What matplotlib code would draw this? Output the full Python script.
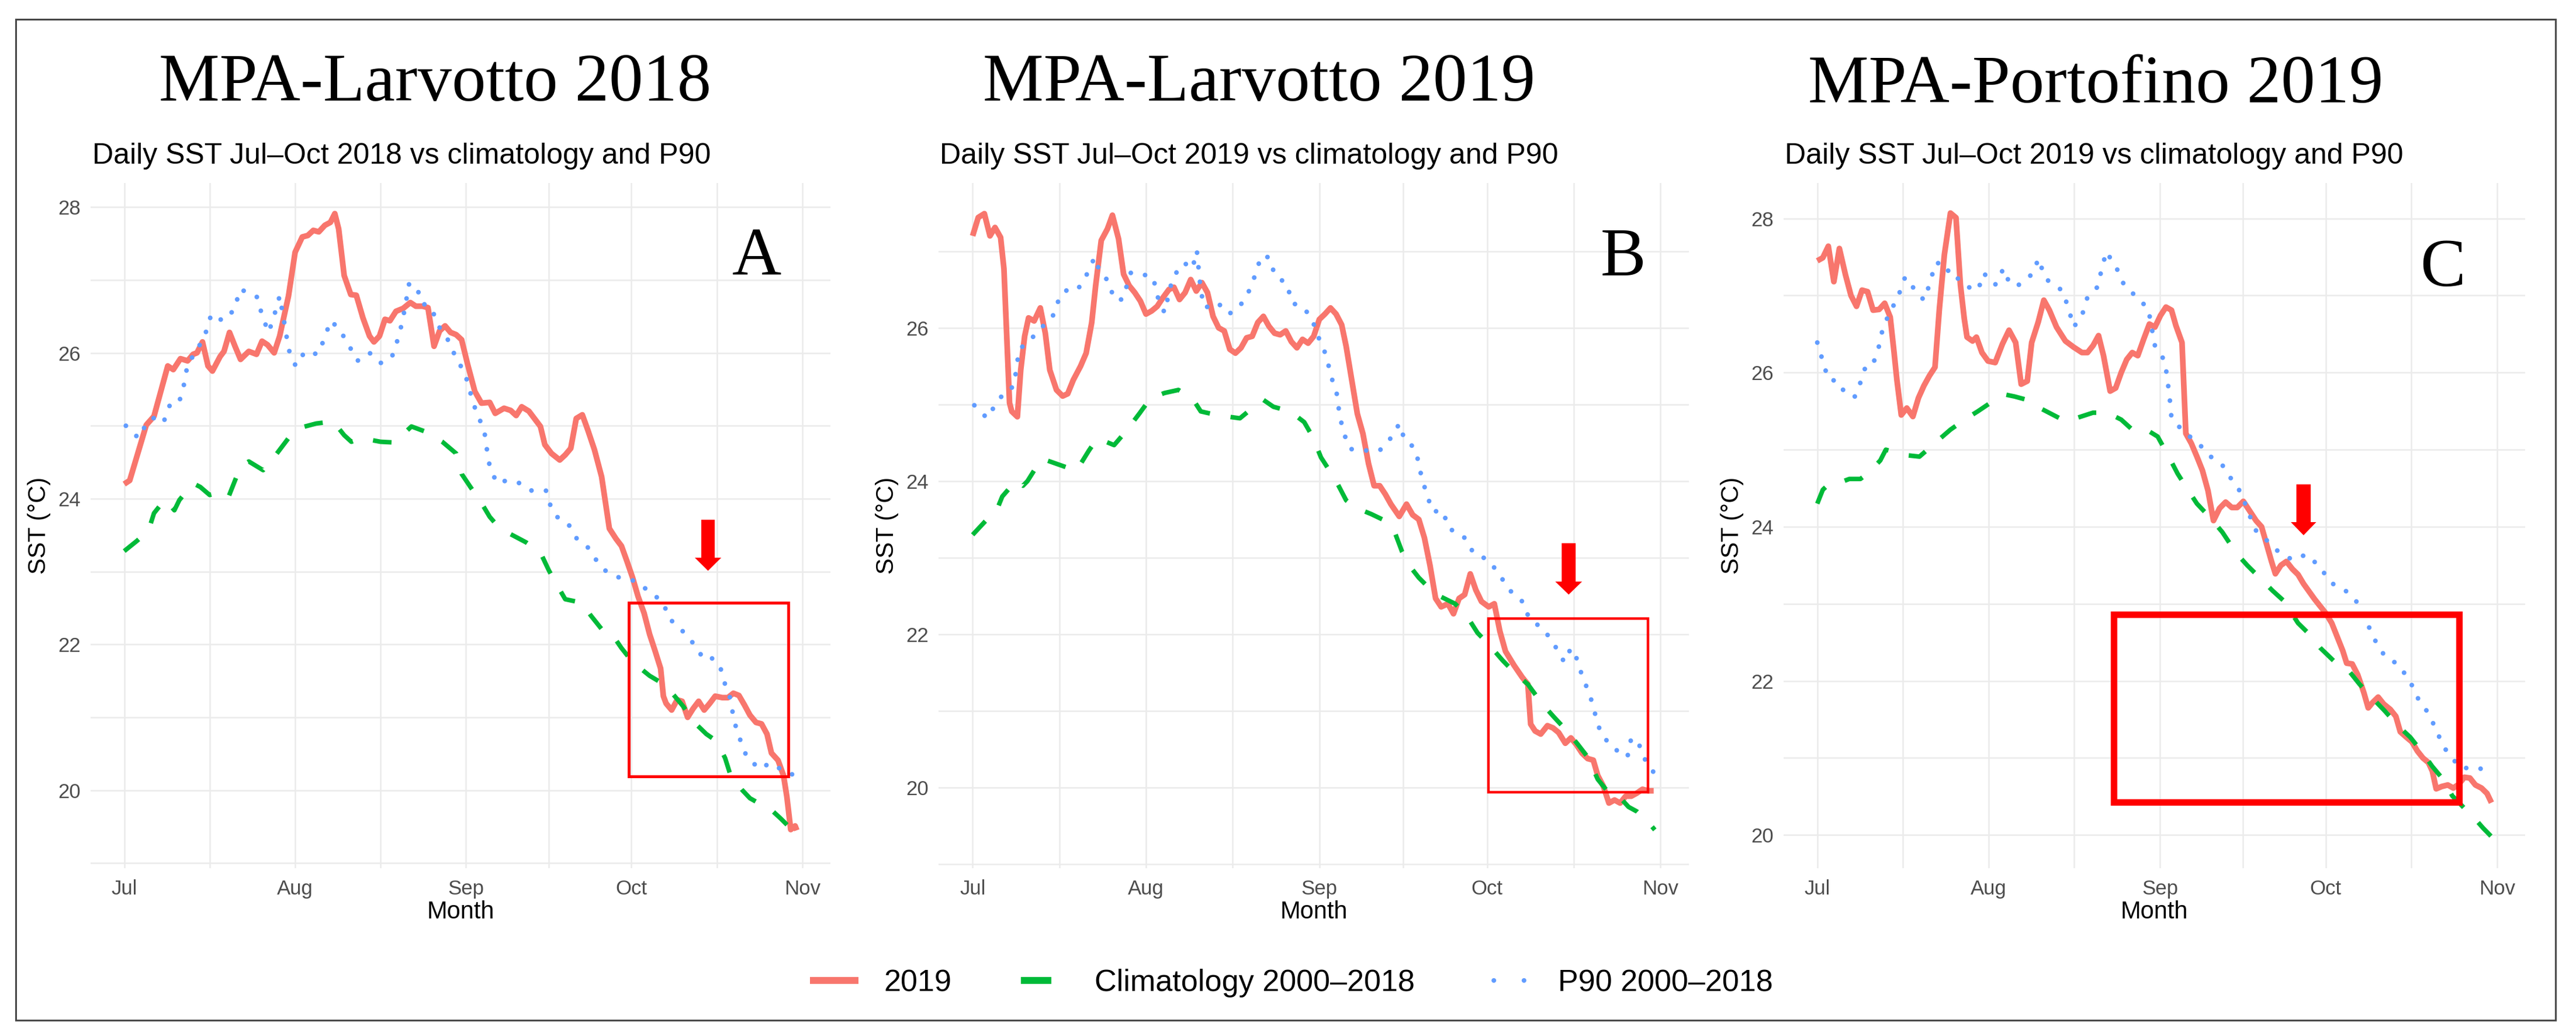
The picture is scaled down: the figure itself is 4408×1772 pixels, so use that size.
import numpy as np
import pandas as pd
import matplotlib
matplotlib.use("Agg")
import matplotlib.pyplot as plt
import matplotlib.dates as mdates
from matplotlib.ticker import MultipleLocator, FixedLocator
from matplotlib.patches import Rectangle, FancyArrow
from matplotlib.lines import Line2D

plt.rcParams['font.family'] = 'Liberation Sans'

# values: (days since 1 Jul, SST in degC)
a_obs = [(0, 24.2), (1, 24.25), (4, 25.01), (5.4, 25.13), (7.9, 25.82), (8.9, 25.77), (10.2, 25.92),
         (11.5, 25.89), (12.5, 25.98), (13.2, 26.0), (14.2, 26.15), (15.2, 25.82), (16, 25.75),
         (17.4, 25.95), (18.1, 26.02), (19.1, 26.28), (20.1, 26.09), (21.1, 25.91), (22.6, 26.02),
         (24, 25.98), (25, 26.16), (26, 26.11), (27.2, 26.0), (28.2, 26.23), (29.8, 26.78), (31, 27.38),
         (32.3, 27.59), (33.3, 27.61), (34.3, 27.68), (35.3, 27.66), (36.4, 27.75), (37.4, 27.79),
         (38.2, 27.91), (38.9, 27.7), (39.9, 27.06), (41.1, 26.8), (42.1, 26.79), (43.3, 26.48),
         (44.5, 26.23), (45.3, 26.15), (46.3, 26.23), (47.3, 26.46), (48.2, 26.44), (49.3, 26.57),
         (50.6, 26.61), (51.9, 26.69), (52.9, 26.64), (54.1, 26.64), (55.1, 26.62), (56.2, 26.09),
         (57.2, 26.3), (58.2, 26.37), (59.2, 26.28), (60.2, 26.25), (61.2, 26.18), (62.3, 25.84),
         (63.6, 25.47), (64.8, 25.31), (66.3, 25.32), (67.3, 25.17), (68.9, 25.24), (70.1, 25.21),
         (71.1, 25.14), (72.1, 25.26), (73.4, 25.2), (74.4, 25.1), (75.5, 24.99), (76.3, 24.74),
         (77.5, 24.62), (79, 24.53), (80, 24.6), (81, 24.69), (82, 25.1), (83.1, 25.15), (84.1, 24.94),
         (85.3, 24.67), (86.6, 24.3), (88, 23.59), (89.2, 23.45), (90.2, 23.35), (91.2, 23.14),
         (92.2, 22.92), (93.2, 22.66), (94.3, 22.43), (95.3, 22.14), (96.3, 21.91), (97.3, 21.67),
         (97.8, 21.29), (98.3, 21.19), (99.3, 21.1), (100.3, 21.24), (101.2, 21.22), (102.2, 21.0),
         (103.2, 21.12), (104.2, 21.22), (105.2, 21.1), (106.2, 21.19), (107.2, 21.29), (108.5, 21.27),
         (109.5, 21.27), (110.5, 21.33), (111.5, 21.3), (112.5, 21.17), (113.5, 21.03), (114.6, 20.93),
         (115.6, 20.91), (116.6, 20.77), (117.4, 20.51), (118.6, 20.41), (119.6, 20.2), (120.2, 19.91),
         (120.9, 19.46), (121.7, 19.51), (122, 19.45)]
a_clim = [(0, 23.28), (2.3, 23.42), (4.4, 23.56), (5.4, 23.8), (7.4, 23.99), (9.1, 23.84), (10, 23.98),
          (12.5, 24.21), (13.8, 24.16), (15.5, 24.05), (17.6, 24.09), (18.9, 24.02), (21.1, 24.44),
          (22.6, 24.51), (25.2, 24.39), (27.2, 24.57), (29.8, 24.83), (31.8, 24.97), (34.8, 25.03),
          (37.9, 25.06), (39.9, 24.87), (41.2, 24.78), (43, 24.83), (46.5, 24.78), (49, 24.77),
          (52.1, 24.99), (54.6, 24.92), (57.7, 24.78), (60.2, 24.62), (61.2, 24.34), (62.8, 24.16),
          (64.8, 23.94), (66.3, 23.75), (67.8, 23.62), (69.9, 23.52), (72.9, 23.4), (75.5, 23.26),
          (77, 23.02), (78, 22.88), (80, 22.62), (83.1, 22.57), (84.6, 22.4), (86.6, 22.21), (88.2, 22.17),
          (90.2, 21.95), (92.2, 21.76), (95.3, 21.57), (97.3, 21.48), (99.3, 21.34), (101.4, 21.15),
          (103.4, 20.93), (105.6, 20.77), (107.5, 20.67), (109, 20.44), (110, 20.2), (112, 20.01),
          (113.5, 19.89), (115.6, 19.8), (117.1, 19.75), (119.1, 19.61), (120.7, 19.49), (122, 19.37)]
a_p90 = [(0.3, 25.0), (2.6, 24.83), (4.4, 25.08), (6.4, 25.13), (7.2, 25.06), (8.4, 25.31), (10, 25.33),
         (11, 25.61), (11.5, 25.86), (13, 26.0), (14.8, 26.28), (15.8, 26.53), (17.9, 26.44), (20.1, 26.6),
         (20.9, 26.87), (22.6, 26.83), (24.2, 26.76), (25, 26.51), (26.2, 26.28), (27.2, 26.51),
         (28.2, 26.78), (29.3, 26.3), (29.8, 26.05), (31.1, 25.82), (32.8, 26.02), (35.1, 25.98),
         (36.4, 26.21), (37.4, 26.44), (38.9, 26.34), (40.7, 26.11), (42.3, 25.89), (44.5, 26.0),
         (46.5, 25.86), (48.5, 25.93), (49.6, 26.18), (50.4, 26.41), (51.1, 26.69), (51.6, 26.94),
         (53.1, 26.92), (53.8, 26.69), (55.7, 26.62), (57, 26.37), (58.7, 26.18), (60.2, 25.93),
         (61.8, 25.72), (62.8, 25.45), (63.8, 25.2), (65.3, 24.94), (65.8, 24.67), (66.3, 24.44),
         (67.6, 24.21), (69.4, 24.25), (71.9, 24.21), (73.9, 24.11), (76.5, 24.11), (77.5, 23.86),
         (78.5, 23.75), (80.5, 23.66), (82.1, 23.45), (84.1, 23.33), (85.6, 23.16), (87.1, 23.02),
         (89.7, 22.92), (92.2, 22.88), (95.3, 22.73), (97.8, 22.57), (98.8, 22.36), (101.2, 22.19),
         (103.4, 22.0), (105.2, 21.79), (106.6, 21.81), (108, 21.72), (109, 21.45), (109.7, 21.34),
         (110.7, 20.93), (111.7, 20.7), (113, 20.44), (115.4, 20.29), (116.8, 20.36), (117.9, 20.36),
         (119.6, 20.25), (122, 20.2)]

b_obs = [(0, 27.2), (1, 27.44), (2.1, 27.49), (3.1, 27.2), (4, 27.31), (5, 27.18), (5.6, 26.77), (6.1, 25.89),
         (6.6, 25.02), (7, 24.91), (8, 24.84), (8.6, 25.45), (9.3, 25.89), (10, 26.13), (11, 26.09),
         (12.1, 26.26), (13, 25.93), (13.8, 25.45), (15, 25.19), (16.1, 25.11), (17, 25.14), (18, 25.32),
         (19.3, 25.5), (20.3, 25.67), (21.3, 26.07), (22, 26.55), (23, 27.14), (24.1, 27.29), (25, 27.47),
         (26.1, 27.16), (27, 26.7), (28, 26.55), (29, 26.46), (30, 26.35), (31, 26.18), (32, 26.22),
         (33, 26.28), (34, 26.39), (35.1, 26.5), (36, 26.53), (37, 26.37), (38, 26.46), (39, 26.63),
         (40, 26.48), (41, 26.59), (42, 26.46), (43, 26.15), (44, 26.0), (45, 25.96), (46, 25.72),
         (47, 25.67), (48, 25.74), (49, 25.87), (50, 25.89), (51, 26.07), (52, 26.15), (53, 26.02),
         (54, 25.93), (55, 25.91), (56, 25.96), (57, 25.82), (58, 25.74), (59, 25.85), (60, 25.8),
         (61, 25.89), (62, 26.11), (63, 26.18), (64, 26.26), (65, 26.18), (66, 26.04), (66.8, 25.76),
         (67.8, 25.32), (68.8, 24.88), (69.8, 24.62), (70.8, 24.23), (71.8, 23.94), (72.8, 23.94),
         (73.8, 23.83), (74.8, 23.7), (76.3, 23.54), (77.6, 23.7), (78.7, 23.56), (79.8, 23.5),
         (80.8, 23.26), (81.8, 22.9), (82.8, 22.47), (83.8, 22.36), (85, 22.4), (86, 22.27), (87, 22.47),
         (88, 22.52), (89, 22.79), (90, 22.58), (91, 22.43), (92.3, 22.36), (93.3, 22.4), (94.3, 22.04),
         (95.3, 21.78), (96.8, 21.6), (98.3, 21.44), (99.3, 21.35), (99.8, 20.83), (100.6, 20.74),
         (101.6, 20.7), (102.8, 20.81), (103.8, 20.78), (104.8, 20.72), (106, 20.58), (107, 20.65),
         (108, 20.56), (109, 20.45), (110, 20.38), (111, 20.36), (111.8, 20.16), (112.8, 20.02),
         (113.8, 19.8), (114.8, 19.84), (115.8, 19.8), (116.8, 19.89), (117.8, 19.89), (118.8, 19.93),
         (119.8, 19.98), (120.8, 19.96), (121.8, 19.96)]
b_clim = [(0, 23.3), (2.3, 23.48), (4.3, 23.62), (5.3, 23.8), (7.8, 24.01), (9, 23.94), (9.8, 24.0),
          (12.3, 24.29), (13.3, 24.27), (16.8, 24.18), (18.6, 24.14), (20.8, 24.4), (22.3, 24.56),
          (25.3, 24.47), (27.3, 24.64), (29.8, 24.88), (31.8, 25.08), (34.3, 25.15), (36.8, 25.19),
          (39.3, 25.08), (40.8, 24.91), (43.8, 24.86), (47.8, 24.82), (50.3, 24.97), (52, 25.06),
          (53.8, 24.97), (56.8, 24.91), (59.3, 24.77), (60.8, 24.58), (62.3, 24.31), (63.8, 24.14),
          (65.3, 23.96), (66.8, 23.75), (68.3, 23.66), (71.3, 23.57), (73.3, 23.5), (75.3, 23.37),
          (76.8, 23.08), (78.3, 22.88), (79.8, 22.74), (81.3, 22.63), (83.8, 22.49), (86.3, 22.4),
          (88.3, 22.25), (90.3, 22.02), (92.3, 21.87), (94.8, 21.66), (96.8, 21.51), (99.3, 21.35),
          (101.8, 21.1), (104, 20.92), (106.3, 20.74), (108.3, 20.56), (110, 20.4), (111.8, 20.11),
          (113.8, 19.93), (115.8, 19.87), (117.3, 19.75), (118.8, 19.69), (119.8, 19.62), (121.3, 19.51),
          (122, 19.45)]
b_p90 = [(0.3, 24.99), (2.6, 24.82), (4, 24.99), (6, 25.19), (7.3, 25.23), (7.8, 25.45), (8.3, 25.72),
         (10, 25.82), (12.3, 26.0), (14.6, 26.18), (15.6, 26.42), (17, 26.5), (18.8, 26.5), (20.6, 26.72),
         (21.8, 26.92), (22.8, 26.72), (24.3, 26.61), (25.3, 26.37), (26.8, 26.37), (28.3, 26.72),
         (30.3, 26.7), (32.3, 26.66), (33, 26.42), (34.3, 26.2), (35.8, 26.66), (37.8, 26.85),
         (39.3, 26.77), (40.1, 27.01), (40.8, 26.48), (41.5, 26.26), (43.8, 26.33), (45.8, 26.18),
         (47.6, 26.26), (49.3, 26.46), (50.6, 26.7), (51.6, 26.94), (53, 26.92), (54.1, 26.68),
         (56.3, 26.57), (57, 26.33), (59.3, 26.26), (60.8, 26.09), (62, 25.85), (63.3, 25.63), (64, 25.39),
         (65.1, 25.15), (65.6, 24.88), (66.3, 24.64), (67.5, 24.42), (69.8, 24.4), (72.8, 24.4), (75, 24.58),
         (76.3, 24.75), (77.3, 24.53), (78.8, 24.45), (79.6, 24.29), (80.3, 24.05), (81.3, 23.81),
         (82.3, 23.6), (84, 23.62), (85.3, 23.37), (86.3, 23.35), (88, 23.26), (89.6, 23.06), (92.3, 22.97),
         (94.3, 22.77), (96, 22.58), (98.3, 22.43), (99.6, 22.2), (102.1, 22.07), (104, 21.87),
         (105.8, 21.64), (107, 21.82), (108, 21.69), (109.1, 21.44), (110.4, 21.21), (111.3, 20.97),
         (112.3, 20.72), (114.3, 20.53), (117.1, 20.4), (117.8, 20.65), (119.1, 20.58), (120.3, 20.36),
         (121.8, 20.2)]

c_obs = [(0, 27.45), (1, 27.49), (2, 27.64), (3, 27.18), (4, 27.61), (5.1, 27.27), (6.1, 27.0), (7.1, 26.86),
         (8.1, 27.07), (9.1, 27.05), (10.1, 26.81), (11.2, 26.82), (12.2, 26.9), (13.2, 26.72), (13.9, 26.26),
         (14.4, 25.91), (15.2, 25.45), (16.2, 25.54), (17.3, 25.43), (18.3, 25.67), (19.3, 25.83),
         (20.3, 25.96), (21.3, 26.07), (22.1, 26.83), (23, 27.53), (24.1, 28.07), (25.1, 28.01),
         (25.9, 27.14), (26.6, 26.7), (27.1, 26.46), (28.1, 26.41), (28.8, 26.46), (29.8, 26.26),
         (30.9, 26.15), (32.2, 26.13), (33.5, 26.37), (34.7, 26.55), (35.9, 26.39), (36.9, 25.85),
         (38, 25.89), (38.8, 26.39), (40, 26.66), (41, 26.94), (42, 26.81), (43.3, 26.59), (44.9, 26.41),
         (46.4, 26.33), (47.9, 26.26), (48.9, 26.26), (49.9, 26.35), (50.9, 26.48), (51.8, 26.22),
         (53, 25.76), (54, 25.8), (55, 26.0), (56, 26.17), (57, 26.26), (58, 26.22), (59.1, 26.44),
         (60.1, 26.63), (61.1, 26.59), (62.1, 26.74), (63.1, 26.85), (64.1, 26.81), (64.9, 26.61),
         (66, 26.39), (66.7, 25.21), (67.7, 25.08), (68.7, 24.91), (69.7, 24.73), (70.7, 24.47),
         (71.7, 24.08), (72.8, 24.24), (73.9, 24.32), (75, 24.25), (76, 24.25), (77.1, 24.33), (78.3, 24.2),
         (79.4, 24.08), (80.4, 24.0), (81.4, 23.75), (82.2, 23.55), (82.9, 23.39), (83.9, 23.5),
         (84.9, 23.55), (86, 23.45), (87, 23.38), (88, 23.26), (89, 23.16), (90, 23.06), (91, 22.97),
         (92, 22.88), (93.1, 22.75), (94.1, 22.57), (95.1, 22.39), (95.8, 22.23), (96.8, 22.22),
         (97.8, 22.08), (98.9, 21.85), (99.7, 21.65), (100.5, 21.72), (101.5, 21.79), (102.5, 21.7),
         (103.7, 21.63), (104.7, 21.54), (105.5, 21.34), (106.6, 21.27), (107.6, 21.21), (108.6, 21.09),
         (109.6, 21.0), (110.6, 20.94), (111.3, 20.83), (112, 20.6), (113, 20.63), (114.1, 20.65),
         (115.1, 20.61), (116.1, 20.66), (117.1, 20.75), (118.1, 20.74), (119.1, 20.65), (120.2, 20.61),
         (121.2, 20.54), (122, 20.42)]
c_clim = [(0, 24.3), (1, 24.48), (2.2, 24.56), (4.3, 24.58), (5.8, 24.62), (7.8, 24.62), (9.3, 24.7),
          (11.4, 24.86), (12.4, 25.0), (15.9, 24.93), (18.5, 24.91), (22, 25.13), (24.1, 25.26),
          (27.1, 25.41), (29.1, 25.5), (32.2, 25.65), (33.7, 25.72), (35.7, 25.69), (38.8, 25.63),
          (40.3, 25.54), (43.8, 25.41), (45.9, 25.37), (46.9, 25.41), (49.9, 25.48), (52.5, 25.48),
          (55, 25.39), (57, 25.26), (59.1, 25.28), (61.6, 25.17), (63.6, 24.91), (65.2, 24.69),
          (66.7, 24.52), (68.7, 24.3), (71.2, 24.11), (73.3, 23.93), (75.8, 23.66), (77.8, 23.5),
          (79.9, 23.35), (82.4, 23.17), (84.4, 23.04), (87, 22.75), (88.7, 22.63), (91, 22.43),
          (93.6, 22.25), (96.1, 22.14), (98.1, 21.96), (100.7, 21.76), (102.7, 21.61), (105.2, 21.41),
          (107.3, 21.27), (109.3, 21.09), (111.3, 20.89), (113.4, 20.71), (114.9, 20.51), (116.4, 20.4),
          (118.4, 20.25), (119.4, 20.18), (120.5, 20.09), (122, 19.98)]
c_p90 = [(0, 26.39), (1, 26.15), (2, 25.91), (3.8, 25.89), (5.1, 25.72), (6.8, 25.69), (7.8, 25.87),
         (8.8, 26.09), (10.1, 26.11), (11.2, 26.35), (11.9, 26.59), (13.2, 26.79), (14.6, 26.98),
         (15.9, 27.24), (17.5, 27.09), (19.3, 26.94), (20.5, 27.18), (21.3, 27.42), (23, 27.42),
         (24.4, 27.22), (25.6, 27.22), (27.3, 27.11), (29.1, 27.07), (30.1, 27.29), (32.2, 27.14),
         (33.7, 27.35), (34.9, 27.14), (36.5, 27.14), (39.1, 27.29), (40, 27.48), (41.3, 27.22),
         (43.3, 27.11), (44.3, 27.07), (45.4, 26.85), (46.4, 26.59), (47.9, 26.74), (48.9, 26.98),
         (50.7, 27.11), (51.5, 27.35), (52.3, 27.57), (54.2, 27.35), (55.5, 27.14), (57.5, 27.0),
         (59.9, 26.83), (61.1, 26.35), (62.9, 26.15), (63.4, 25.89), (63.8, 25.65), (64.1, 25.41),
         (66.2, 25.24), (69, 25.08), (71.2, 24.91), (73.3, 24.8), (75.1, 24.6), (76.8, 24.43),
         (77.8, 24.22), (79.4, 23.95), (81.4, 23.82), (83.4, 23.68), (86, 23.57), (88.5, 23.64),
         (91, 23.48), (92.8, 23.28), (95.8, 23.16), (98.1, 22.99), (99.5, 22.75), (101, 22.52),
         (102.7, 22.32), (105.2, 22.21), (107.3, 21.99), (108.8, 21.76), (110.8, 21.56), (112.1, 21.34),
         (113.6, 21.12), (115.1, 20.98), (116.4, 20.87), (118.4, 20.87), (119.9, 20.87), (121.8, 20.74)]

titles = ["MPA-Larvotto 2018", "MPA-Larvotto 2019", "MPA-Portofino 2019"]
years = [2018, 2019, 2019]
letters = ["A", "B", "C"]
series = [(a_obs, a_clim, a_p90), (b_obs, b_clim, b_p90), (c_obs, c_clim, c_p90)]
legend_labels = ["2019", "Climatology 2000\u20132018", "P90 2000\u20132018"]

RED, GREEN, BLUE = "#F8766D", "#00BA38", "#619CFF"
MARK = "#FF0000"

# layout in pixels of the 4408 x 1772 picture
W, H = 4408, 1772
layout = [
    dict(ax_x=(155, 1421), title_x=745, title_y=172, sub_x=158, letter=(0.9005, 0.8652),
         ylim=(18.93, 28.33), box=(91.5, 120.5, 20.19, 22.57), box_lw=3.6,
         arrow=(105.9, 23.71, 23.01, 0.18, 2.44, 4.8)),
    dict(ax_x=(1606, 2890), title_x=2155, title_y=172, sub_x=1608, letter=(0.9128, 0.8652),
         ylim=(18.95, 27.89), box=(92.2, 120.8, 19.94, 22.21), box_lw=3.2,
         arrow=(106.6, 23.19, 22.52, 0.17, 2.5, 4.8)),
    dict(ax_x=(3052, 4321), title_x=3586, title_y=175, sub_x=3054, letter=(0.8889, 0.8498),
         ylim=(19.57, 28.46), box=(53.7, 116.2, 20.43, 22.86), box_lw=8,
         arrow=(88.0, 24.55, 23.89, 0.17, 2.6, 4.6)),
]
AX_TOP, AX_BOT = 313, 1485

fig = plt.figure(figsize=(W / 100, H / 100), dpi=100)

for i, lay in enumerate(layout):
    x0, x1 = lay['ax_x']
    ax = fig.add_axes([x0 / W, 1 - AX_BOT / H, (x1 - x0) / W, (AX_BOT - AX_TOP) / H])
    base = mdates.date2num(pd.Timestamp(years[i], 7, 1))

    obs, clim, p90 = [np.array(s, dtype=float).T for s in series[i]]
    ax.plot(base + obs[0], obs[1], color=RED, lw=7, solid_capstyle='butt', solid_joinstyle='round', zorder=3)
    ax.plot(base + clim[0], clim[1], color=GREEN, lw=5.6, ls=(0, (4.1, 4.6)), dash_capstyle='butt', zorder=3)
    ax.plot(base + p90[0], p90[1], color=BLUE, lw=5.8, ls=(0, (0.01, 3.1)), dash_capstyle='round', zorder=3)

    months = mdates.date2num(pd.date_range(f"{years[i]}-07-01", f"{years[i]}-11-01", freq='MS'))
    ax.xaxis.set_major_locator(FixedLocator(months))
    ax.xaxis.set_minor_locator(FixedLocator((months[:-1] + months[1:]) / 2))
    ax.xaxis.set_major_formatter(mdates.DateFormatter('%b'))
    ax.yaxis.set_major_locator(MultipleLocator(2))
    ax.yaxis.set_minor_locator(MultipleLocator(1))
    ax.set_xlim(base - 6.1, base + 128.1)
    ax.set_ylim(*lay['ylim'])

    ax.grid(which='both', color='#EBEBEB', lw=1.8)
    ax.set_axisbelow(True)
    for s in ax.spines.values():
        s.set_visible(False)
    ax.tick_params(which='both', length=0, labelsize=25, labelcolor='#4D4D4D')
    ax.tick_params(axis='x', pad=14)
    ax.tick_params(axis='y', pad=12)

    ax.set_xlabel('Month', fontsize=30, va='center')
    ax.xaxis.set_label_coords(0.5, -75 / (AX_BOT - AX_TOP))
    ax.set_ylabel('SST (\u00b0C)', fontsize=30, va='center')
    ax.yaxis.set_label_coords(-88 / (x1 - x0), 0.5)

    fig.text(lay['title_x'] / W, 1 - lay['title_y'] / H, titles[i], fontsize=84,
             family='Liberation Serif', ha='center', va='baseline')
    fig.text(lay['sub_x'] / W, 1 - 280 / H, f"Daily SST Jul\u2013Oct {years[i]} vs climatology and P90",
             fontsize=36, ha='left', va='baseline')
    ax.text(*lay['letter'], letters[i], transform=ax.transAxes, fontsize=84,
            family='Liberation Serif', ha='center', va='baseline')

    # red highlight box and arrow
    bx0, bx1, by0, by1 = lay['box']
    ax.add_patch(Rectangle((base + bx0, by0), bx1 - bx0, by1 - by0, fill=False, ec=MARK,
                           lw=lay['box_lw'], zorder=5, clip_on=False))
    axx, ytop, ytip, hl, w, hw = lay['arrow']
    ax.add_patch(FancyArrow(base + axx, ytop, 0, ytip - ytop, width=w, head_width=hw, head_length=hl,
                            length_includes_head=True, color=MARK, lw=0, zorder=5, clip_on=False))

handles = [Line2D([], [], color=RED, lw=8.5, solid_capstyle='butt'),
           Line2D([], [], color=GREEN, lw=8.5, ls=(0, (4.4, 6)), dash_capstyle='butt'),
           Line2D([], [], color=BLUE, lw=5.8, ls=(4.4, (0.01, 6.4)), dash_capstyle='round')]
fig.legend(handles, legend_labels, loc='center', bbox_to_anchor=(2210 / W, 1 - 1682 / H), ncol=3,
           frameon=False, fontsize=37.5, handlelength=1.6, handletextpad=0.83, columnspacing=2.27)

fig.patches.append(Rectangle((27 / W, 1 - 1745 / H), (4373 - 27) / W, (1745 - 33) / H,
                             transform=fig.transFigure, fill=False, ec='#4A4A4A', lw=2.2))

fig.savefig('out.png', dpi=100)
